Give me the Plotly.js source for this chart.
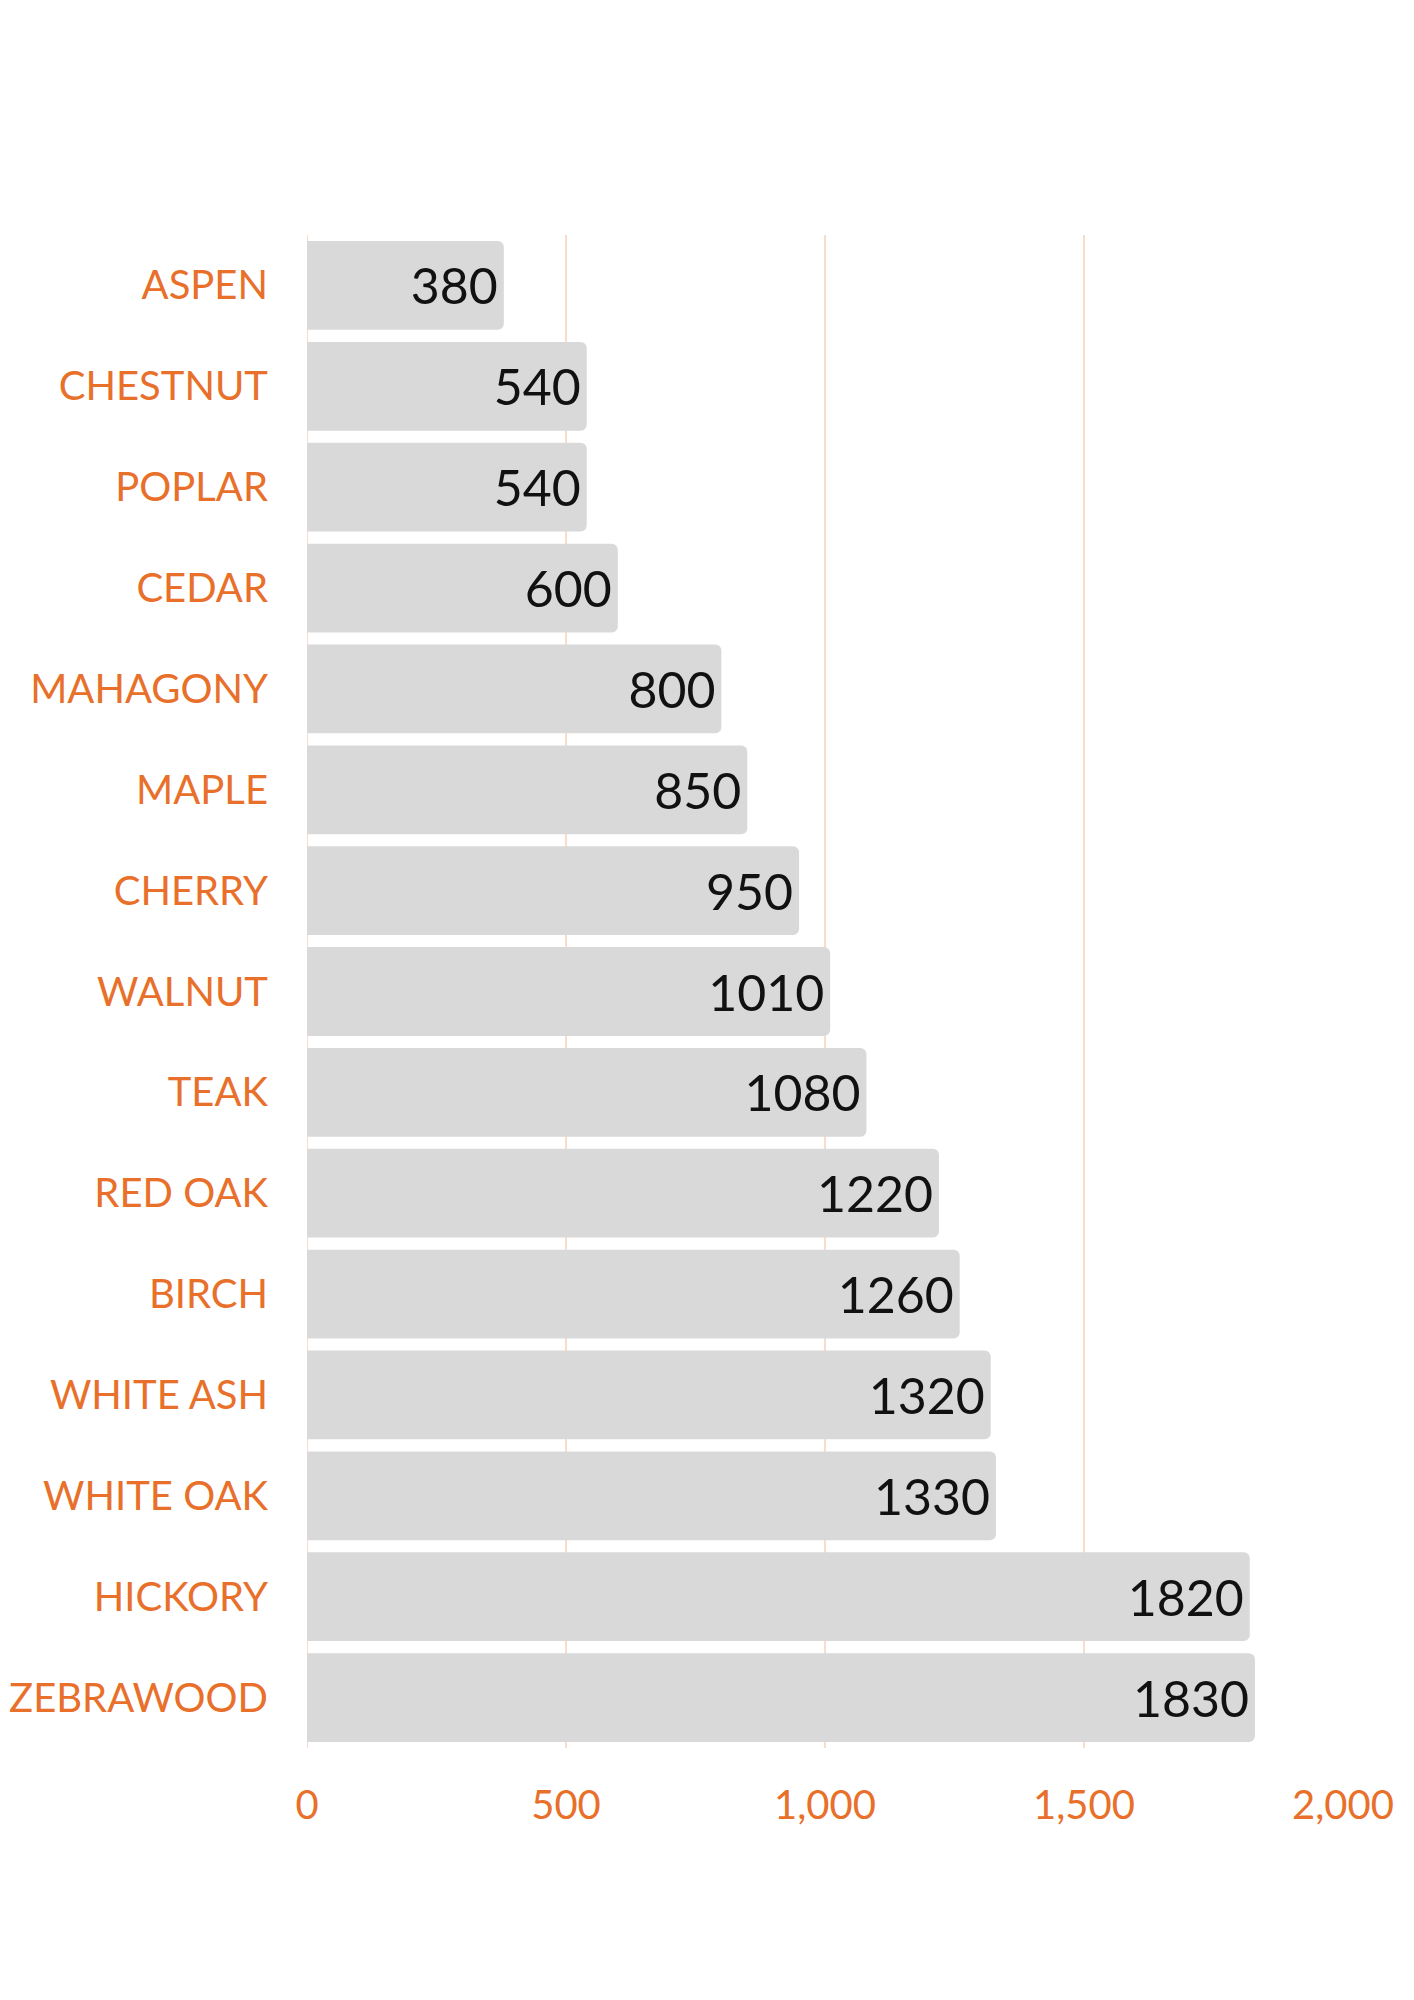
<!DOCTYPE html>
<html>
<head>
<meta charset="utf-8">
<script src="https://cdn.plot.ly/plotly-3.0.1.min.js"></script>
<style>body{margin:0;background:#fff}#chart{width:1414px;height:2000px}</style>
</head>
<body>
<div id="chart"></div>
<script>
const woods = ["ASPEN", "CHESTNUT", "POPLAR", "CEDAR", "MAHAGONY", "MAPLE", "CHERRY", "WALNUT",
  "TEAK", "RED OAK", "BIRCH", "WHITE ASH", "WHITE OAK", "HICKORY", "ZEBRAWOOD"];
const hardness = [380, 540, 540, 600, 800, 850, 950, 1010, 1080, 1220, 1260, 1320, 1330, 1820, 1830];
const xTicks = [0, 500, 1000, 1500, 2000];

const data = [{
  type: "bar",
  orientation: "h",
  y: woods,
  x: hardness,
  text: hardness.map(String),
  textposition: "inside",
  insidetextanchor: "end",
  textfont: { family: "Lato, sans-serif", size: 50, color: "#111" },
  marker: { color: "#D9D9D9", cornerradius: 6 },
  hoverinfo: "skip"
}];

const layout = {
  width: 1414,
  height: 2000,
  margin: { t: 235, b: 252, l: 307, r: 71 },
  paper_bgcolor: "#fff",
  plot_bgcolor: "#fff",
  bargap: 0.12,
  showlegend: false,
  font: { family: "Lato, sans-serif", color: "#E8702A" },
  xaxis: {
    range: [0, 2000],
    tickvals: xTicks,
    ticktext: xTicks.map((v) => v.toLocaleString("en-US")),
    tickfont: { size: 40, color: "#E8702A" },
    showgrid: true,
    gridcolor: "#F9DDCC",
    gridwidth: 2,
    zeroline: true,
    zerolinecolor: "#F9DDCC",
    ticks: "",
    ticklen: 20,
    tickcolor: "rgba(0,0,0,0)",
    ticklabelstandoff: 30
  },
  yaxis: {
    autorange: "reversed",
    tickfont: { size: 40, color: "#E8702A" },
    ticks: "outside",
    ticklen: 30,
    tickcolor: "rgba(0,0,0,0)",
    showgrid: false
  }
};

Plotly.newPlot("chart", data, layout, { displayModeBar: false, staticPlot: true });
</script>
</body>
</html>
